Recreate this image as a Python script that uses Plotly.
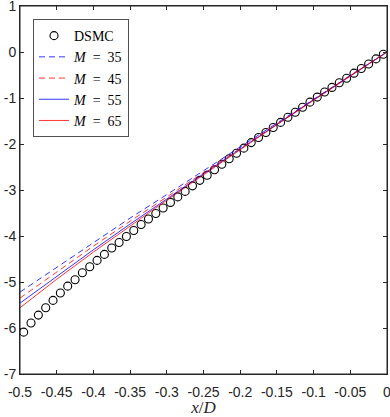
import plotly.graph_objects as go

# DSMC data (x/D, value)
dsmc_x = [-0.495, -0.485, -0.475, -0.465, -0.455, -0.445, -0.435, -0.425, -0.415, -0.405,
          -0.395, -0.385, -0.375, -0.365, -0.355, -0.345, -0.335, -0.325, -0.315, -0.305,
          -0.295, -0.285, -0.275, -0.265, -0.255, -0.245, -0.235, -0.225, -0.215, -0.205,
          -0.195, -0.185, -0.175, -0.165, -0.155, -0.145, -0.135, -0.125, -0.115, -0.105,
          -0.095, -0.085, -0.075, -0.065, -0.055, -0.045, -0.035, -0.025, -0.015, -0.005]
dsmc_y = [-6.09, -5.89, -5.72, -5.56, -5.40, -5.24, -5.09, -4.95, -4.80, -4.67,
          -4.53, -4.40, -4.26, -4.14, -4.01, -3.88, -3.75, -3.63, -3.51, -3.39,
          -3.27, -3.15, -3.03, -2.91, -2.79, -2.68, -2.56, -2.44, -2.32, -2.20,
          -2.09, -1.97, -1.86, -1.75, -1.64, -1.53, -1.42, -1.31, -1.20, -1.09,
          -0.98, -0.87, -0.77, -0.67, -0.57, -0.46, -0.36, -0.26, -0.15, -0.05]

# Model curves
line_x = [-0.5, -0.45, -0.4, -0.35, -0.3, -0.25, -0.2, -0.15, -0.1, -0.05, 0.0]
m35_y = [-5.22, -4.68, -4.14, -3.61, -3.10, -2.58, -2.06, -1.54, -1.02, -0.51, 0.0]
m45_y = [-5.35, -4.78, -4.22, -3.68, -3.15, -2.62, -2.09, -1.56, -1.03, -0.51, 0.0]
m55_y = [-5.46, -4.87, -4.30, -3.74, -3.19, -2.65, -2.11, -1.57, -1.04, -0.52, 0.0]
m65_y = [-5.56, -4.94, -4.35, -3.78, -3.22, -2.67, -2.12, -1.58, -1.05, -0.52, 0.0]

x_ticks = [-0.5, -0.45, -0.4, -0.35, -0.3, -0.25, -0.2, -0.15, -0.1, -0.05, 0]
x_tick_labels = ["-0.5", "-0.45", "-0.4", "-0.35", "-0.3", "-0.25", "-0.2", "-0.15", "-0.1", "-0.05", "0"]
y_ticks = [1, 0, -1, -2, -3, -4, -5, -6, -7]
y_tick_labels = ["1", "0", "-1", "-2", "-3", "-4", "-5", "-6", "-7"]

sp = "&nbsp;&nbsp;"
fig = go.Figure()
fig.add_trace(go.Scatter(x=dsmc_x, y=dsmc_y, mode="markers", name="DSMC",
                         marker=dict(symbol="circle-open", size=8, color="black",
                                     line=dict(width=1.1, color="black"))))
fig.add_trace(go.Scatter(x=line_x, y=m35_y, mode="lines", name=f"<i>M</i>{sp}={sp}35",
                         line=dict(color="#0000ff", width=0.8, dash="6px,4px")))
fig.add_trace(go.Scatter(x=line_x, y=m45_y, mode="lines", name=f"<i>M</i>{sp}={sp}45",
                         line=dict(color="#ff0000", width=0.8, dash="6px,4px")))
fig.add_trace(go.Scatter(x=line_x, y=m55_y, mode="lines", name=f"<i>M</i>{sp}={sp}55",
                         line=dict(color="#0000ff", width=0.8)))
fig.add_trace(go.Scatter(x=line_x, y=m65_y, mode="lines", name=f"<i>M</i>{sp}={sp}65",
                         line=dict(color="#ff0000", width=0.8)))

axis_common = dict(showgrid=False, zeroline=False, showline=True, linecolor="#262626",
                   linewidth=1, mirror="ticks", ticks="inside", ticklen=4,
                   tickcolor="#262626", tickwidth=0.8, automargin=False,
                   ticklabeloverflow="allow",
                   tickfont=dict(family="Liberation Sans, Arial", size=14, color="#262626"))

fig.update_layout(
    width=390, height=417,
    margin=dict(l=20, r=3, t=6, b=43),
    paper_bgcolor="white", plot_bgcolor="white",
    xaxis=dict(range=[-0.5, 0], tickvals=x_ticks, ticktext=x_tick_labels,
               ticklabelstandoff=5,
               title=dict(text="<i>x</i>/<i>D</i>", standoff=2,
                          font=dict(family="Liberation Serif, Times New Roman", size=17, color="#262626")),
               **axis_common),
    yaxis=dict(range=[-7, 1], tickvals=y_ticks, ticktext=y_tick_labels, **axis_common),
    legend=dict(x=0.036, y=0.964, xanchor="left", yanchor="top",
                bgcolor="white", bordercolor="#262626", borderwidth=0.8,
                font=dict(family="Liberation Serif, Times New Roman", size=14, color="black"),
                tracegroupgap=0, itemwidth=30),
    shapes=[dict(type="rect", xref="paper", yref="paper", x0=0, x1=1, y0=0, y1=1,
                 line=dict(color="#262626", width=1), layer="above")],
    showlegend=True,
)

fig.write_html("out.html", config={"displayModeBar": False},
               post_script="document.body.style.margin='0';")
